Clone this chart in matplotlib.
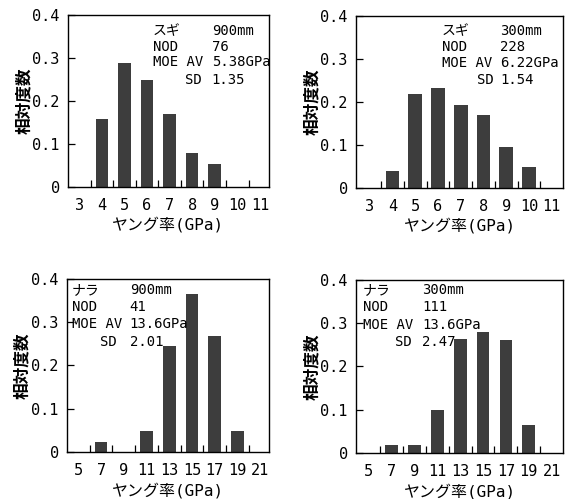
import matplotlib.pyplot as plt
from matplotlib.ticker import FixedLocator, NullFormatter

plt.rcParams['font.family'] = ['DejaVu Sans Mono', 'Noto Sans CJK JP']

# 相対度数
sugi900_x = [4, 5, 6, 7, 8, 9]
sugi900_y = [0.158, 0.289, 0.250, 0.171, 0.079, 0.053]
sugi300_x = [4, 5, 6, 7, 8, 9, 10]
sugi300_y = [0.039, 0.219, 0.232, 0.193, 0.171, 0.096, 0.048]
nara900_x = [7, 11, 13, 15, 17, 19]
nara900_y = [0.024, 0.049, 0.244, 0.366, 0.268, 0.049]
nara300_x = [7, 9, 11, 13, 15, 17, 19]
nara300_y = [0.018, 0.018, 0.099, 0.263, 0.280, 0.261, 0.064]

sugi_ticks = list(range(3, 12))
nara_ticks = list(range(5, 22, 2))
y_ticks = [0, 0.1, 0.2, 0.3, 0.4]
y_labels = ['0', '0.1', '0.2', '0.3', '0.4']

# 注記: (樹種, 長さ, NOD, MOE AV, SD)
info_tl = ['スギ', '900mm', '76', '5.38GPa', '1.35']
info_tr = ['スギ', '300mm', '228', '6.22GPa', '1.54']
info_bl = ['ナラ', '900mm', '41', '13.6GPa', '2.01']
info_br = ['ナラ', '300mm', '111', '13.6GPa', '2.47']

fig = plt.figure(figsize=(5.69, 4.99), dpi=100)
bar_color = '#3d3d3d'


def panel(rect, xs, ys, ticks, width, xlim, info, cols, rows, ylab_x):
    ax = fig.add_axes(rect)
    ax.bar(xs, ys, width=width, color=bar_color, edgecolor='none')
    ax.set_xlim(*xlim)
    ax.set_ylim(0, 0.4)
    step = ticks[1] - ticks[0]
    ax.set_xticks(ticks)
    ax.xaxis.set_minor_locator(FixedLocator([t + step / 2 for t in ticks[:-1]]))
    ax.xaxis.set_minor_formatter(NullFormatter())
    ax.set_yticks(y_ticks)
    ax.set_yticklabels(y_labels)
    ax.tick_params(axis='x', which='major', length=0, pad=8, labelsize=11)
    ax.tick_params(axis='x', which='minor', direction='in', length=5, width=0.9)
    ax.tick_params(axis='y', direction='in', length=5, width=0.9, pad=6, labelsize=11)
    for s in ax.spines.values():
        s.set_linewidth(1.0)
    ax.set_xlabel('ヤング率(GPa)', fontsize=11.5, va='center')
    ax.xaxis.set_label_coords(0.5, -0.22)
    ax.set_ylabel('相対度数', fontsize=12, fontweight='bold', va='center',
                  family='Noto Sans CJK JP')
    ax.yaxis.set_label_coords(ylab_x, 0.5)

    c0, c1, csd = cols
    kw = dict(transform=ax.transAxes, fontsize=10, va='center', ha='left')
    ax.text(c0, rows[0], info[0], **kw)
    ax.text(c1, rows[0], info[1], **kw)
    ax.text(c0, rows[1], 'NOD', **kw)
    ax.text(c1, rows[1], info[2], **kw)
    ax.text(c0, rows[2], 'MOE AV', **kw)
    ax.text(c1, rows[2], info[3], **kw)
    ax.text(csd, rows[3], 'SD', **kw)
    ax.text(c1, rows[3], info[4], **kw)
    return ax


panel([0.1195, 0.625, 0.353, 0.345], sugi900_x, sugi900_y, sugi_ticks, 0.55,
      (2.5, 11.4), info_tl, (0.423, 0.716, 0.582), (0.907, 0.814, 0.727, 0.622), -0.22)
panel([0.6257, 0.623, 0.364, 0.345], sugi300_x, sugi300_y, sugi_ticks, 0.6,
      (2.4, 11.5), info_tr, (0.415, 0.696, 0.585), (0.913, 0.82, 0.727, 0.628), -0.21)
panel([0.1178, 0.0942, 0.355, 0.347], nara900_x, nara900_y, nara_ticks, 1.12,
      (4.0, 21.8), info_bl, (0.025, 0.31, 0.163), (0.936, 0.838, 0.74, 0.636), -0.22)
panel([0.6257, 0.0922, 0.364, 0.347], nara300_x, nara300_y, nara_ticks, 1.12,
      (3.9, 22.0), info_br, (0.034, 0.319, 0.188), (0.942, 0.844, 0.74, 0.642), -0.21)

fig.savefig('out.png', dpi=100)
